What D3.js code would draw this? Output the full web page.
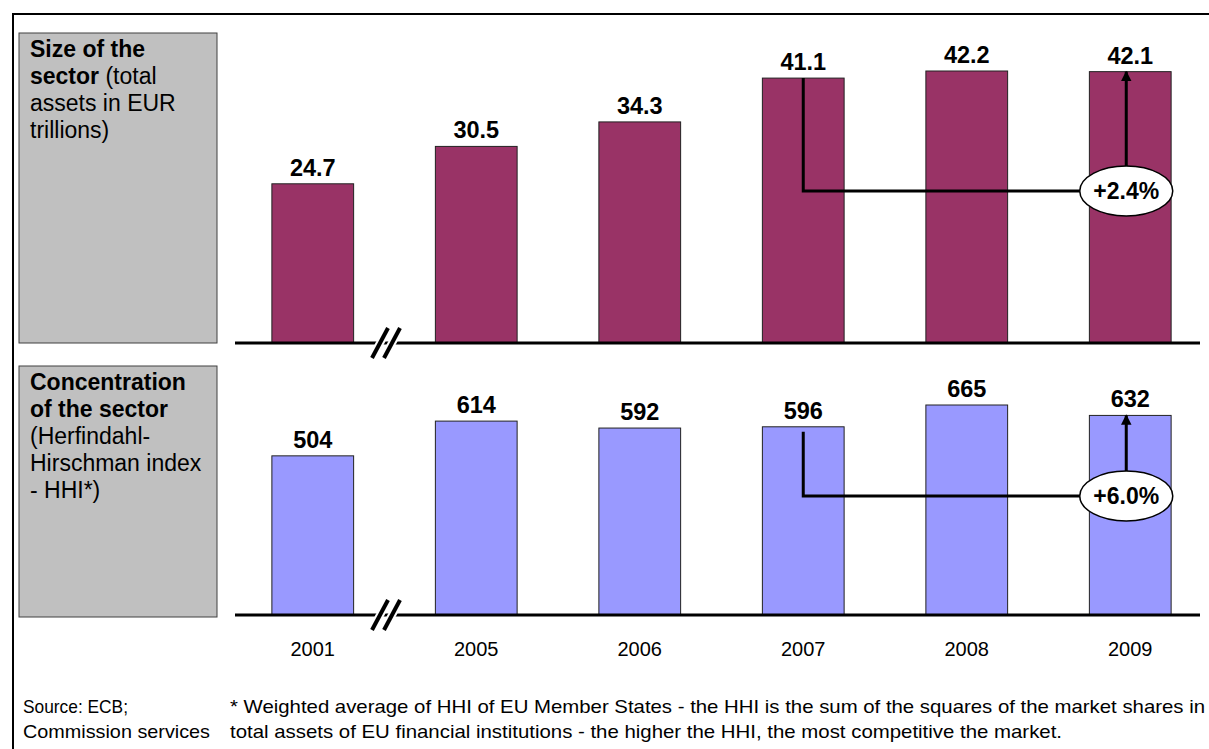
<!DOCTYPE html>
<html><head><meta charset="utf-8">
<script src="https://cdn.jsdelivr.net/npm/d3@7"></script>
<style>body{margin:0;background:#fff}svg{display:block;font-family:Arial,"Liberation Sans",sans-serif}</style>
</head><body><svg id="c" width="1209" height="749"></svg>
<script>
const years = ["2001","2005","2006","2007","2008","2009"];
const sizeValues = [24.7, 30.5, 34.3, 41.1, 42.2, 42.1];
const sizeLabels = ["24.7","30.5","34.3","41.1","42.2","42.1"];
const hhiValues = [504, 614, 592, 596, 665, 632];
const hhiLabels = ["504","614","592","596","665","632"];
const changeLabels = ["+2.4%","+6.0%"];
const changeFrom = "2007", changeTo = "2009";

const svg = d3.select("#c");
svg.append("path").attr("d","M13,749V14H1209").attr("fill","none").attr("stroke","#000").attr("stroke-width",2);

const x = d3.scaleBand().domain(years).range([231,1212]).paddingInner(0.5).paddingOuter(0.25);

const panels = [
  {vals:sizeValues, labels:sizeLabels, base:343, y:d3.scaleLinear().domain([0,42.2]).range([343,71]), color:"#993366",
   box:[19,33,198,310], title:[[["Size of the",true]],[["sector",true],[" (total",false]],[["assets in EUR",false]],[["trillions)",false]]],
   change:changeLabels[0], ellY:191, startOff:0},
  {vals:hhiValues, labels:hhiLabels, base:615, y:d3.scaleLinear().domain([0,665]).range([615,405]), color:"#9999FF",
   box:[19,366,198,251], title:[[["Concentration",true]],[["of the sector",true]],[["(Herfindahl-",false]],[["Hirschman index",false]],[["- HHI*)",false]]],
   change:changeLabels[1], ellY:496, startOff:5}
];

svg.append("defs").append("marker").attr("id","arr").attr("viewBox","0 0 10 10").attr("refX",9).attr("refY",5)
  .attr("markerWidth",3.5).attr("markerHeight",4).attr("orient","auto")
  .append("path").attr("d","M0,0L10,5L0,10Z").attr("fill","#000");

panels.forEach(p=>{
  const g = svg.append("g");
  g.append("rect").attr("x",p.box[0]).attr("y",p.box[1]).attr("width",p.box[2]).attr("height",p.box[3])
    .attr("fill","#C0C0C0").attr("stroke","#404040").attr("stroke-width",1);
  const t = g.append("text").attr("font-size",23).attr("fill","#000");
  p.title.forEach((line,i)=>{
    line.forEach((seg,j)=>{
      const ts = t.append("tspan").text(seg[0]).attr("font-weight",seg[1]?"bold":"normal");
      if(j===0) ts.attr("x",30).attr("y",p.box[1]+24+i*27);
    });
  });
  g.selectAll("rect.bar").data(years).join("rect").attr("class","bar")
    .attr("x",d=>x(d)).attr("width",x.bandwidth())
    .attr("y",(d,i)=>p.y(p.vals[i])).attr("height",(d,i)=>p.base-p.y(p.vals[i]))
    .attr("fill",p.color).attr("stroke","#222").attr("stroke-width",1);
  g.selectAll("text.val").data(years).join("text").attr("class","val")
    .attr("x",d=>x(d)+x.bandwidth()/2).attr("y",(d,i)=>p.y(p.vals[i])-8)
    .attr("text-anchor","middle").attr("font-size",23.5).attr("font-weight","bold").text((d,i)=>p.labels[i]);
  g.append("line").attr("x1",235).attr("x2",1200).attr("y1",p.base).attr("y2",p.base).attr("stroke","#000").attr("stroke-width",3);
  const bx = 386;
  [-6,6].forEach(o=>{
    g.append("line").attr("x1",bx+o-8).attr("y1",p.base+15).attr("x2",bx+o+8).attr("y2",p.base-15)
      .attr("stroke","#fff").attr("stroke-width",8);
  });
  [-6,6].forEach(o=>{
    g.append("line").attr("x1",bx+o-8).attr("y1",p.base+15).attr("x2",bx+o+8).attr("y2",p.base-15)
      .attr("stroke","#000").attr("stroke-width",4);
  });
  const i0 = years.indexOf(changeFrom), i1 = years.indexOf(changeTo);
  const x0 = x(changeFrom)+x.bandwidth()/2, x1 = x(changeTo)+x.bandwidth()/2 - 4;
  const y0 = p.y(p.vals[i0]) + p.startOff;
  g.append("path").attr("d",`M${x0},${y0}V${p.ellY}H${x1}`).attr("fill","none").attr("stroke","#000").attr("stroke-width",3);
  g.append("line").attr("x1",x1).attr("x2",x1).attr("y1",p.ellY).attr("y2",p.y(p.vals[i1])).attr("stroke","#000").attr("stroke-width",3).attr("marker-end","url(#arr)");
  g.append("ellipse").attr("cx",x1).attr("cy",p.ellY).attr("rx",46.5).attr("ry",25).attr("fill","#fff").attr("stroke","#000").attr("stroke-width",1.5);
  g.append("text").attr("x",x1).attr("y",p.ellY+8).attr("text-anchor","middle").attr("font-size",23).attr("font-weight","bold").text(p.change);
});

svg.selectAll("text.yr").data(years).join("text").attr("class","yr")
  .attr("x",d=>x(d)+x.bandwidth()/2).attr("y",656).attr("text-anchor","middle").attr("font-size",20).text(d=>d);

const ft = [["Source: ECB;",23,713,105],["Commission services",23,738,187],
  ["* Weighted average of HHI of EU Member States - the HHI is the sum of the squares of the market shares in",230,713,975],
  ["total assets of EU financial institutions - the higher the HHI, the most competitive the market.",230,738,832]];
ft.forEach(f=>{
  const tx = svg.append("text").attr("x",f[1]).attr("y",f[2]).attr("font-size",18.5).text(f[0]);
  if(f[3]) tx.attr("textLength",f[3]).attr("lengthAdjust","spacingAndGlyphs");
});
</script></body></html>
